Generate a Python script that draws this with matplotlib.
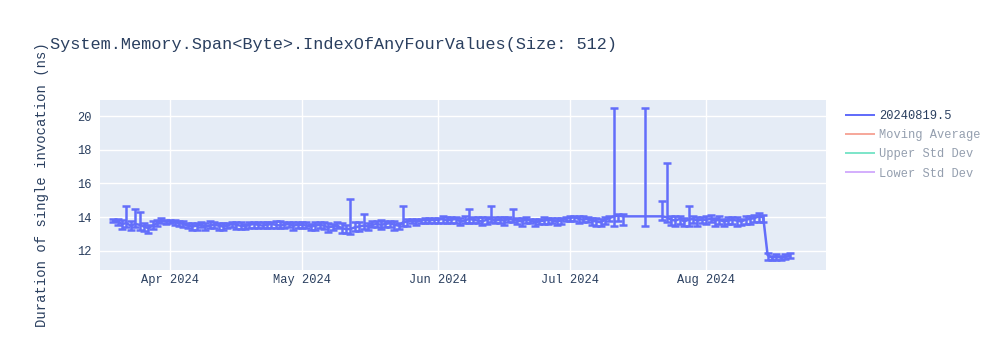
import matplotlib
matplotlib.use("Agg")
import matplotlib.pyplot as plt
import matplotlib.dates as mdates
from matplotlib.lines import Line2D
import pandas as pd

TITLE = "System.Memory.Span<Byte>.IndexOfAnyFourValues(Size: 512)"
Y_LABEL = "Duration of single invocation (ns)"
SERIES_NAME = "20240819.5"
HIDDEN_SERIES = ["Moving Average", "Upper Std Dev", "Lower Std Dev"]
HIDDEN_COLORS = ["#EF553B", "#00CC96", "#AB63FA"]

# day numbers per month (2024)
mar_days = [19, 20, 21, 22, 23, 24, 25, 26, 27, 28, 29, 30, 31]
apr_days = list(range(1, 31))
may_days = list(range(1, 32))
jun_days = list(range(1, 31))
jul_days = [1, 2, 3, 4, 5, 6, 7, 8, 9, 10, 11, 12, 13, 18, 22, 23, 24, 25, 26, 27, 28, 29, 30, 31]
aug_days = list(range(1, 21))

mar_mean = [13.8, 13.75, 13.6, 13.65, 13.5, 13.6, 13.55, 13.45, 13.35, 13.5, 13.65, 13.8, 13.75]
mar_up = [0.1, 0.15, 0.25, 1.0, 0.3, 0.9, 0.75, 0.2, 0.2, 0.25, 0.2, 0.15, 0.1]
mar_lo = [0.1, 0.2, 0.3, 0.25, 0.25, 0.2, 0.3, 0.25, 0.3, 0.2, 0.15, 0.15, 0.15]

apr_mean = [13.75, 13.7, 13.65, 13.6, 13.5, 13.45, 13.5, 13.55, 13.45, 13.5, 13.55, 13.5, 13.45, 13.5, 13.6,
            13.55, 13.5, 13.45, 13.55, 13.6, 13.55, 13.5, 13.55, 13.6, 13.55, 13.5, 13.55, 13.6, 13.5, 13.55]
apr_up = [0.1, 0.15, 0.15, 0.2, 0.15, 0.2, 0.15, 0.15, 0.2, 0.25, 0.15, 0.15, 0.2, 0.15, 0.1,
          0.15, 0.2, 0.15, 0.15, 0.1, 0.15, 0.2, 0.15, 0.1, 0.2, 0.25, 0.15, 0.1, 0.2, 0.15]
apr_lo = [0.1, 0.15, 0.2, 0.2, 0.15, 0.2, 0.25, 0.15, 0.2, 0.15, 0.2, 0.25, 0.2, 0.15, 0.2,
          0.25, 0.2, 0.15, 0.2, 0.25, 0.2, 0.15, 0.2, 0.25, 0.2, 0.15, 0.2, 0.2, 0.25, 0.2]

may_mean = [13.55, 13.5, 13.45, 13.5, 13.55, 13.5, 13.4, 13.45, 13.5, 13.35, 13.3, 13.3, 13.4, 13.45, 13.5, 13.45,
            13.55, 13.6, 13.55, 13.6, 13.65, 13.55, 13.5, 13.7, 13.75, 13.8, 13.75, 13.8, 13.85, 13.8, 13.85]
may_up = [0.15, 0.2, 0.15, 0.2, 0.15, 0.2, 0.25, 0.15, 0.2, 0.3, 0.25, 1.77, 0.3, 0.25, 0.7, 0.2,
          0.25, 0.2, 0.3, 0.2, 0.15, 0.2, 0.15, 0.95, 0.15, 0.1, 0.15, 0.1, 0.1, 0.15, 0.1]
may_lo = [0.2, 0.15, 0.2, 0.25, 0.2, 0.2, 0.25, 0.2, 0.15, 0.3, 0.25, 0.3, 0.2, 0.25, 0.2, 0.2,
          0.15, 0.2, 0.25, 0.2, 0.25, 0.3, 0.2, 0.2, 0.25, 0.15, 0.2, 0.15, 0.2, 0.15, 0.2]

jun_mean = [13.85, 13.9, 13.8, 13.85, 13.9, 13.75, 13.8, 13.9, 13.85, 13.8, 13.75, 13.85, 13.9, 13.8, 13.85,
            13.8, 13.9, 13.85, 13.8, 13.75, 13.85, 13.8, 13.7, 13.75, 13.8, 13.85, 13.8, 13.75, 13.8, 13.9]
jun_up = [0.1, 0.15, 0.2, 0.15, 0.1, 0.2, 0.25, 0.6, 0.15, 0.2, 0.25, 0.15, 0.75, 0.2, 0.15,
          0.2, 0.1, 0.62, 0.15, 0.2, 0.15, 0.1, 0.2, 0.15, 0.2, 0.1, 0.15, 0.2, 0.15, 0.1]
jun_lo = [0.2, 0.25, 0.15, 0.2, 0.25, 0.2, 0.15, 0.25, 0.2, 0.15, 0.2, 0.25, 0.2, 0.15, 0.2,
          0.25, 0.2, 0.15, 0.2, 0.25, 0.2, 0.15, 0.2, 0.15, 0.2, 0.25, 0.15, 0.2, 0.2, 0.15]

jul_mean = [13.95, 14.0, 13.9, 13.85, 13.9, 13.8, 13.75, 13.7, 13.85, 13.95, 14.05, 14.1, 14.05, 14.05,
            14.05, 14.0, 13.85, 13.8, 13.9, 13.75, 13.85, 13.9, 13.8, 13.85]
jul_up = [0.15, 0.1, 0.15, 0.2, 0.1, 0.15, 0.2, 0.2, 0.15, 0.1, 6.4, 0.1, 0.15, 6.4,
          0.92, 3.2, 0.2, 0.25, 0.15, 0.2, 0.8, 0.15, 0.2, 0.15]
jul_lo = [0.15, 0.2, 0.25, 0.15, 0.2, 0.25, 0.3, 0.2, 0.25, 0.2, 0.55, 0.3, 0.5, 0.55,
          0.2, 0.3, 0.3, 0.35, 0.3, 0.3, 0.35, 0.25, 0.3, 0.2]

aug_mean = [13.85, 13.9, 13.8, 13.85, 13.75, 13.8, 13.85, 13.8, 13.75, 13.85, 13.9, 13.95, 14.05, 14.0,
            11.75, 11.6, 11.65, 11.6, 11.65, 11.7]
aug_up = [0.2, 0.25, 0.15, 0.2, 0.15, 0.2, 0.15, 0.2, 0.15, 0.2, 0.15, 0.2, 0.2, 0.15,
          0.15, 0.1, 0.15, 0.1, 0.15, 0.2]
aug_lo = [0.25, 0.2, 0.3, 0.25, 0.3, 0.2, 0.25, 0.3, 0.2, 0.25, 0.3, 0.25, 0.35, 0.3,
          0.3, 0.15, 0.2, 0.15, 0.15, 0.1]

months = [(3, mar_days), (4, apr_days), (5, may_days), (6, jun_days), (7, jul_days), (8, aug_days)]
dates = pd.to_datetime([f"2024-{m:02d}-{d:02d}" for m, days in months for d in days])
mean = mar_mean + apr_mean + may_mean + jun_mean + jul_mean + aug_mean
err_up = mar_up + apr_up + may_up + jun_up + jul_up + aug_up
err_lo = mar_lo + apr_lo + may_lo + jun_lo + jul_lo + aug_lo

LINE = "#636EFA"
TEXT = "#2A3F5F"
BG = "#E5ECF6"
FONT = ["Liberation Mono", "DejaVu Sans Mono"]

plt.rcParams["font.family"] = FONT

fig = plt.figure(figsize=(10, 3.5), dpi=100)
ax = fig.add_axes([0.100, 1 - 270 / 350, 0.726, 170 / 350])
ax.set_facecolor(BG)
for s in ax.spines.values():
    s.set_visible(False)

ax.errorbar(dates, mean, yerr=[err_lo, err_up], color=LINE, lw=1.8, elinewidth=1.8,
            capsize=3.2, capthick=1.8, zorder=3)

ax.set_xlim(pd.Timestamp("2024-03-16"), pd.Timestamp("2024-08-28 07:00"))
ax.set_ylim(10.87, 20.95)
ax.set_yticks([12, 14, 16, 18, 20])
ax.xaxis.set_major_locator(mdates.MonthLocator())
ax.xaxis.set_major_formatter(mdates.DateFormatter("%b %Y"))
ax.grid(True, color="white", lw=1, zorder=0)
ax.set_axisbelow(True)
ax.tick_params(axis="x", length=0, labelsize=8.64, labelcolor=TEXT, pad=3)
ax.tick_params(axis="y", length=0, labelsize=8.64, labelcolor=TEXT, pad=6)

fig.text(0.050, 1 - 45 / 350, TITLE, fontsize=12.2, color=TEXT, va="center", ha="left")
fig.text(0.042, 1 - 185 / 350, Y_LABEL, fontsize=10, color=TEXT, rotation=90, va="center", ha="center")

handles = [Line2D([], [], color=LINE, lw=1.44)]
handles += [Line2D([], [], color=c, lw=1.44, alpha=0.5) for c in HIDDEN_COLORS]
leg = fig.legend(handles, [SERIES_NAME] + HIDDEN_SERIES, loc="upper left",
                 bbox_to_anchor=(0.846, 1 - 110 / 350), frameon=False, fontsize=8.64,
                 handlelength=2.3, handletextpad=0.45, labelspacing=0.6, borderpad=0, borderaxespad=0)
for i, t in enumerate(leg.get_texts()):
    t.set_color(TEXT)
    if i > 0:
        t.set_alpha(0.5)

fig.savefig("out.png", dpi=100)
